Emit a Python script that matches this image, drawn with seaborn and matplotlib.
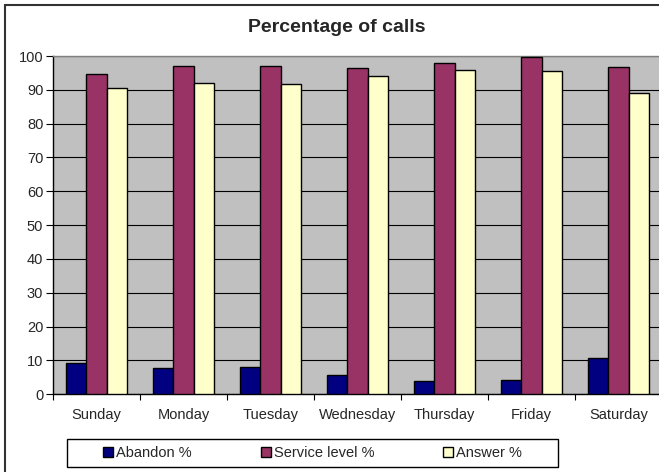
import numpy as np
import pandas as pd
import seaborn as sns
import matplotlib.pyplot as plt
from matplotlib.patches import Rectangle

days = ["Sunday", "Monday", "Tuesday", "Wednesday", "Thursday", "Friday", "Saturday"]
abandon = [9.2, 7.7, 8.1, 5.7, 4.0, 4.2, 10.6]
service = [94.6, 97.0, 97.1, 96.6, 98.0, 99.7, 96.8]
answer = [90.6, 92.1, 91.7, 94.1, 95.8, 95.5, 89.1]
series = ["Abandon %", "Service level %", "Answer %"]
colors = ["#000080", "#993366", "#FFFFCC"]

df = pd.DataFrame({
    "day": days * 3,
    "pct": abandon + service + answer,
    "series": np.repeat(series, len(days)),
})

sns.set_style("white")
plt.rcParams['font.family'] = ['Liberation Sans', 'DejaVu Sans']

fig = plt.figure(figsize=(6.59, 4.72), dpi=100)
ax = fig.add_axes([53 / 659, 77.7 / 472, 609 / 659, 338.3 / 472])
ax.set_facecolor("#C0C0C0")

sns.barplot(data=df, x="day", y="pct", hue="series", palette=colors,
            width=0.69, saturation=1, edgecolor="black", linewidth=1,
            ax=ax, zorder=3)

ax.set_ylim(0, 100)
ax.set_xlim(-0.5, 6.5)
ax.set_yticks(range(0, 101, 10))
ax.yaxis.grid(True, color="black", linewidth=0.8, zorder=0)
ax.set_axisbelow(True)
ax.tick_params(axis="y", labelsize=10.5, length=5, width=0.8, color="black",
               left=True, direction="out", pad=2)
ax.tick_params(axis="x", which="major", length=0, labelsize=10.5, pad=10)
ax.set_xticks(np.arange(-0.5, 6.6, 1.0), minor=True)
ax.tick_params(axis="x", which="minor", length=4, width=0.8, color="black",
               bottom=True, direction="out")
ax.set_xlabel("")
ax.set_ylabel("")
for s in ["top", "right"]:
    ax.spines[s].set_color("#808080")
    ax.spines[s].set_linewidth(1)
for s in ["left", "bottom"]:
    ax.spines[s].set_color("black")
    ax.spines[s].set_linewidth(1)

# legend: items spread out inside a separately drawn box
handles, labels = ax.get_legend_handles_labels()
ax.legend_.remove()
fig.legend(handles, labels, loc="center",
           bbox_to_anchor=(312.5 / 659, 1 - 453 / 472),
           ncol=3, fontsize=10.5, frameon=False, handlelength=0.7,
           handleheight=0.7, handletextpad=0.2, columnspacing=4.7,
           borderaxespad=0, borderpad=0)
fig.patches.append(Rectangle((67 / 659, 1 - 467 / 472), 491 / 659, 28 / 472,
                             transform=fig.transFigure, fill=False,
                             edgecolor="black", linewidth=1))

fig.text(337 / 659, 1 - 28 / 472, "Percentage of calls", ha="center",
         va="center", fontsize=14, fontweight="bold")

fig.patches.append(Rectangle((4.5 / 659, -0.1), 1.2, 1 - 4.7 / 472 + 0.1,
                             transform=fig.transFigure, fill=False,
                             edgecolor="#333333", linewidth=1.5))

fig.savefig("out.png", dpi=100)
